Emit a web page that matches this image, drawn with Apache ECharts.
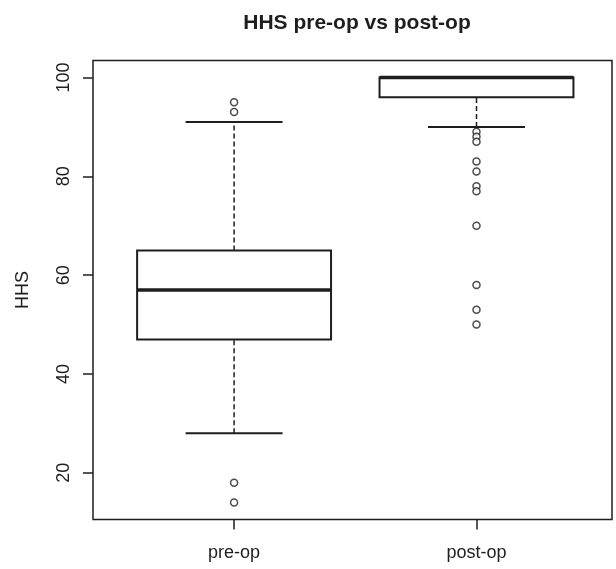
<!DOCTYPE html>
<html>
<head>
<meta charset="utf-8">
<script src="https://cdn.jsdelivr.net/npm/echarts@6/dist/echarts.min.js"></script>
<style>
html,body{margin:0;padding:0;background:#fff;}
#chart{width:616px;height:569px;}
</style>
</head>
<body>
<div id="chart"></div>
<script>
// ---- data ----
var categories = ['pre-op', 'post-op'];
var lowerWhisker = [28, 90];
var q1 = [47, 96];
var median = [57, 100];
var q3 = [65, 100];
var upperWhisker = [91, 100];
var preOpOutliers = [95, 93, 18, 14];
var postOpOutliers = [89, 88, 87, 83, 81, 78, 77, 70, 58, 53, 50];
var yTicks = [20, 40, 60, 80, 100];
var titleText = 'HHS pre-op vs post-op';
var yName = 'HHS';

var INK = '#1e1e1e';
var FONT = '"Liberation Sans", Arial, sans-serif';

var boxData = categories.map(function (c, i) {
  return [i + 1, lowerWhisker[i], q1[i], median[i], q3[i], upperWhisker[i]];
});
var outlierData = [];
preOpOutliers.forEach(function (v) { outlierData.push([1, v]); });
postOpOutliers.forEach(function (v) { outlierData.push([2, v]); });

function renderBox(params, api) {
  var x = api.value(0);
  var lo = api.value(1), a = api.value(2), m = api.value(3), b = api.value(4), hi = api.value(5);
  var halfBox = 0.4, halfCap = 0.2;
  var pLo = api.coord([x, lo]), pA = api.coord([x, a]), pM = api.coord([x, m]), pB = api.coord([x, b]), pHi = api.coord([x, hi]);
  var bl = api.coord([x - halfBox, b]), br = api.coord([x + halfBox, a]);
  var cl = api.coord([x - halfCap, lo])[0], cr = api.coord([x + halfCap, lo])[0];
  var dash = { stroke: INK, lineWidth: 1.5, lineDash: [5, 3] };
  var solid = { stroke: INK, lineWidth: 2 };
  var children = [
    { type: 'line', shape: { x1: pB[0], y1: pB[1], x2: pHi[0], y2: pHi[1] }, style: dash },
    { type: 'line', shape: { x1: pLo[0], y1: pLo[1], x2: pA[0], y2: pA[1] }, style: dash },
    { type: 'line', shape: { x1: cl, y1: pHi[1], x2: cr, y2: pHi[1] }, style: solid },
    { type: 'line', shape: { x1: cl, y1: pLo[1], x2: cr, y2: pLo[1] }, style: solid },
    { type: 'rect', shape: { x: bl[0], y: bl[1], width: br[0] - bl[0], height: br[1] - bl[1] },
      style: { fill: '#fff', stroke: INK, lineWidth: 2 } },
    { type: 'line', shape: { x1: bl[0], y1: pM[1], x2: br[0], y2: pM[1] }, style: { stroke: INK, lineWidth: 3.5 } }
  ];
  return { type: 'group', children: children };
}

var chart = echarts.init(document.getElementById('chart'), null, { renderer: 'canvas' });
chart.setOption({
  backgroundColor: '#fff',
  animation: false,
  title: {
    text: titleText,
    left: 352,
    top: 8,
    textAlign: 'center',
    textStyle: { fontFamily: FONT, fontSize: 21, fontWeight: 'bold', color: INK }
  },
  grid: {
    left: 93, top: 60.5, width: 519, height: 459,
    containLabel: false,
    outerBoundsMode: 'none',
    show: true, borderColor: INK, borderWidth: 1.5, backgroundColor: 'transparent'
  },
  xAxis: {
    type: 'value',
    min: 0.418, max: 2.559,
    splitLine: { show: false },
    axisLine: { show: false },
    axisTick: { show: true, length: 10, inside: false, customValues: [1, 2], lineStyle: { color: INK, width: 1.5 } },
    axisLabel: {
      customValues: [1, 2], margin: 25,
      formatter: function (v) { return categories[Math.round(v) - 1] || ''; },
      fontFamily: FONT, fontSize: 18, color: INK
    }
  },
  yAxis: {
    type: 'value',
    min: 10.56, max: 103.44,
    name: yName,
    nameLocation: 'middle',
    nameGap: 61,
    nameTextStyle: { fontFamily: FONT, fontSize: 18, color: INK },
    splitLine: { show: false },
    axisLine: { show: false },
    axisTick: { show: true, length: 10, inside: false, customValues: yTicks, lineStyle: { color: INK, width: 1.5 } },
    axisLabel: {
      customValues: yTicks, rotate: 90, margin: 20,
      fontFamily: FONT, fontSize: 18, color: INK
    }
  },
  series: [
    {
      type: 'custom',
      renderItem: renderBox,
      data: boxData,
      encode: { x: 0, y: [1, 2, 3, 4, 5] },
      clip: false,
      z: 2
    },
    {
      type: 'scatter',
      data: outlierData,
      symbol: 'circle',
      symbolSize: 7,
      itemStyle: { color: '#fff', borderColor: INK, borderWidth: 1.5 },
      z: 3
    }
  ]
});
</script>
</body>
</html>
